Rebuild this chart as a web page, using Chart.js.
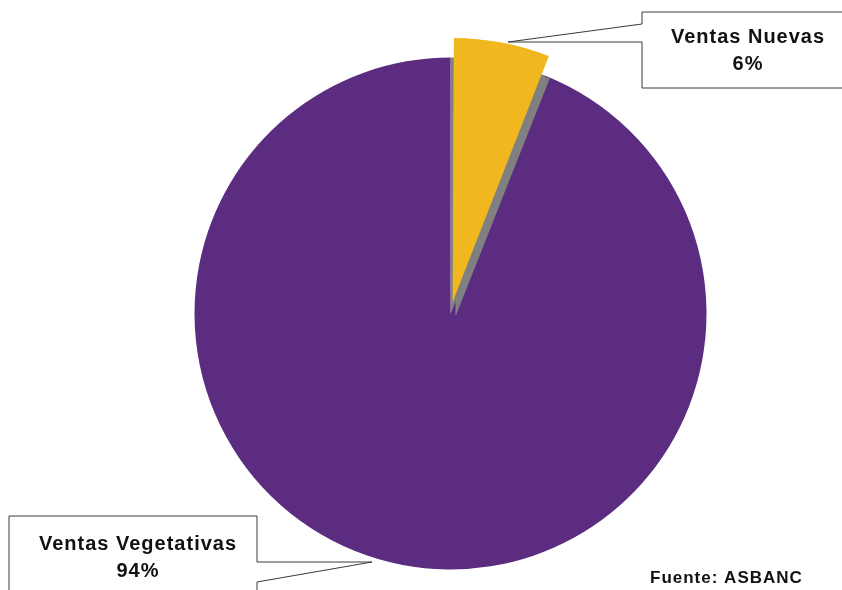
<!DOCTYPE html>
<html>
<head>
<meta charset="utf-8">
<script src="https://cdn.jsdelivr.net/npm/chart.js@4/dist/chart.umd.min.js"></script>
<style>
  html, body { margin: 0; padding: 0; background: #fff; }
  #wrap { position: relative; width: 842px; height: 590px; }
</style>
</head>
<body>
<div id="wrap"><canvas id="chart" width="842" height="590"></canvas></div>
<script>
// data
const labels = ['Ventas Nuevas', 'Ventas Vegetativas'];
const shares = [6, 94];
const shareLabels = ['6%', '94%'];
const sliceColors = ['#F0B71E', '#5B2C80'];
const sliceOffsets = [48, 0];
const sourceNote = 'Fuente: ASBANC';

// callout boxes (layout only)
const callouts = [
    { box: [642, 12, 854, 88], side: 'left', p1: 24, p2: 42, tip: [508, 42], textX: 748, lines: [37, 64] },
    { box: [9, 516, 257, 640], side: 'right', p1: 562, p2: 582, tip: [372, 562], textX: 138, lines: [544, 571] }
];

const FONT = '"Liberation Sans", Arial, sans-serif';

function greyWedge(ctx, arc, dx, dy) {
    ctx.save();
    ctx.fillStyle = '#808080';
    ctx.beginPath();
    ctx.moveTo(arc.x + dx, arc.y + dy);
    ctx.arc(arc.x + dx, arc.y + dy, arc.outerRadius, arc.startAngle, arc.endAngle);
    ctx.closePath();
    ctx.fill();
    ctx.restore();
}

// grey shadow of the exploded slice
const shadowPlugin = {
    id: 'shadow',
    beforeDatasetsDraw(chart) {
        greyWedge(chart.ctx, chart.getDatasetMeta(0).data[0], 0, 0);
    },
    afterDatasetsDraw(chart) {
        const arc = chart.getDatasetMeta(0).data[0];
        greyWedge(chart.ctx, arc, 5, 3);
        arc.draw(chart.ctx);
    }
};

const calloutPlugin = {
    id: 'callouts',
    afterDraw(chart) {
        const ctx = chart.ctx;
        ctx.save();
        callouts.forEach((c, i) => {
            const [x0, y0, x1, y1] = c.box;
            ctx.beginPath();
            if (c.side === 'left') {
                ctx.moveTo(x0, c.p1);
                ctx.lineTo(x0, y0);
                ctx.lineTo(x1, y0);
                ctx.lineTo(x1, y1);
                ctx.lineTo(x0, y1);
                ctx.lineTo(x0, c.p2);
                ctx.lineTo(c.tip[0], c.tip[1]);
            } else {
                ctx.moveTo(x1, c.p1);
                ctx.lineTo(x1, y0);
                ctx.lineTo(x0, y0);
                ctx.lineTo(x0, y1);
                ctx.lineTo(x1, y1);
                ctx.lineTo(x1, c.p2);
                ctx.lineTo(c.tip[0], c.tip[1]);
            }
            ctx.closePath();
            ctx.fillStyle = '#fff';
            ctx.fill();
            ctx.strokeStyle = '#3a3a3a';
            ctx.lineWidth = 1;
            ctx.stroke();

            ctx.fillStyle = '#111';
            ctx.textAlign = 'center';
            ctx.textBaseline = 'middle';
            ctx.font = 'bold 20px ' + FONT;
            ctx.letterSpacing = '1px';
            ctx.fillText(labels[i], c.textX, c.lines[0]);
            ctx.fillText(shareLabels[i], c.textX, c.lines[1]);
        });
        ctx.font = 'bold 17px ' + FONT;
        ctx.letterSpacing = '1px';
        ctx.textAlign = 'left';
        ctx.textBaseline = 'middle';
        ctx.fillStyle = '#111';
        ctx.fillText(sourceNote, 650, 578);
        ctx.restore();
    }
};

new Chart(document.getElementById('chart').getContext('2d'), {
    type: 'pie',
    data: {
        labels: labels,
        datasets: [{
            data: shares,
            backgroundColor: sliceColors,
            offset: sliceOffsets,
            borderWidth: 0
        }]
    },
    options: {
        responsive: false,
        animation: false,
        radius: 256,
        layout: { padding: { left: 59, right: 0, top: 37, bottom: 0 } },
        plugins: {
            legend: { display: false },
            tooltip: { enabled: false }
        }
    },
    plugins: [shadowPlugin, calloutPlugin]
});
</script>
</body>
</html>
